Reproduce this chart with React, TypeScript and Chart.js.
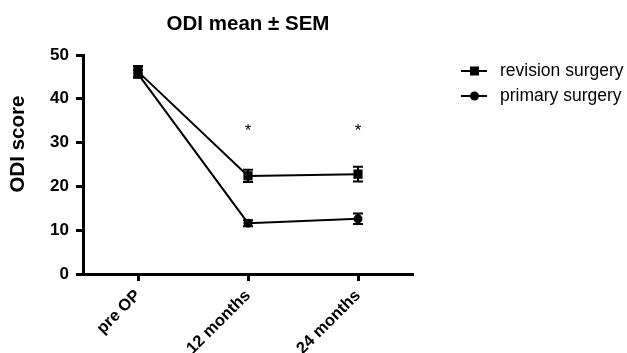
import React, { useEffect, useRef } from "react";
import { Chart, registerables } from "chart.js";

Chart.register(...registerables);

const categories = ["pre OP", "12 months", "24 months"];
const revisionMean = [46.2, 22.4, 22.8];
const revisionSem = [1.3, 1.4, 1.7];
const primaryMean = [45.7, 11.6, 12.6];
const primarySem = [0.9, 0.7, 1.2];
const significance = ["", "*", "*"];
const significanceLevel = 32.5;
const seriesNames = ["revision surgery", "primary surgery"];
const chartTitle = "ODI mean ± SEM";
const yAxisTitle = "ODI score";
const yTicksMin = 0;
const yTicksMax = 50;
const yTicksStep = 10;

const FONT = "'Liberation Sans', Arial, Helvetica, sans-serif";

export default function App() {
  const ref = useRef<HTMLCanvasElement | null>(null);

  useEffect(() => {
    const canvas = ref.current;
    if (!canvas) return;

    const semArrays = [revisionSem, primarySem];

    const errorBars = {
      id: "errorBars",
      beforeDatasetsDraw(chart: any) {
        const ctx = chart.ctx;
        const y = chart.scales.y;
        ctx.save();
        ctx.strokeStyle = "#000";
        ctx.lineWidth = 2;
        chart.data.datasets.forEach((ds: any, di: number) => {
          const meta = chart.getDatasetMeta(di);
          meta.data.forEach((pt: any, i: number) => {
            const v = ds.data[i];
            const e = semArrays[di][i];
            const top = y.getPixelForValue(v + e);
            const bot = y.getPixelForValue(v - e);
            const x = pt.x;
            ctx.beginPath();
            ctx.moveTo(x, top);
            ctx.lineTo(x, bot);
            ctx.moveTo(x - 5, top);
            ctx.lineTo(x + 5, top);
            ctx.moveTo(x - 5, bot);
            ctx.lineTo(x + 5, bot);
            ctx.stroke();
          });
        });
        ctx.restore();
      },
    };

    const annotations = {
      id: "annotations",
      afterDraw(chart: any) {
        const ctx = chart.ctx;
        const xs = chart.scales.x;
        const ys = chart.scales.y;
        const area = chart.chartArea;
        ctx.save();
        ctx.fillStyle = "#000";

        // title
        ctx.font = `bold 20.5px ${FONT}`;
        ctx.textAlign = "center";
        ctx.textBaseline = "middle";
        ctx.fillText(chartTitle, (area.left + area.right) / 2, 24);

        // y axis title
        ctx.save();
        ctx.translate(18, 144);
        ctx.rotate(-Math.PI / 2);
        ctx.font = `bold 20.5px ${FONT}`;
        ctx.fillText(yAxisTitle, 0, 0);
        ctx.restore();

        // significance markers
        ctx.font = `17px ${FONT}`;
        ctx.textAlign = "center";
        ctx.textBaseline = "middle";
        significance.forEach((s, i) => {
          if (!s) return;
          ctx.fillText(s, xs.getPixelForValue(i), ys.getPixelForValue(significanceLevel));
        });

        // legend
        const rows = [71, 96];
        const styles = ["rect", "circle"];
        ctx.textAlign = "left";
        ctx.font = `17.5px ${FONT}`;
        seriesNames.forEach((name, i) => {
          const ry = rows[i];
          ctx.strokeStyle = "#000";
          ctx.lineWidth = 2;
          ctx.beginPath();
          ctx.moveTo(461, ry);
          ctx.lineTo(487, ry);
          ctx.stroke();
          if (styles[i] === "rect") {
            ctx.fillRect(470, ry - 4.5, 9, 9);
          } else {
            ctx.beginPath();
            ctx.arc(474.5, ry, 4.5, 0, Math.PI * 2);
            ctx.fill();
          }
          ctx.fillText(name, 500, ry);
        });
        ctx.restore();
      },
    };

    const chart = new Chart(canvas, {
      type: "line",
      data: {
        labels: categories,
        datasets: [
          {
            label: seriesNames[0],
            data: revisionMean,
            borderColor: "#000",
            backgroundColor: "#000",
            borderWidth: 2,
            pointStyle: "rect",
            pointRadius: 6.5,
            pointBorderWidth: 0,
            tension: 0,
          },
          {
            label: seriesNames[1],
            data: primaryMean,
            borderColor: "#000",
            backgroundColor: "#000",
            borderWidth: 2,
            pointStyle: "circle",
            pointRadius: 4.5,
            pointBorderWidth: 0,
            tension: 0,
          },
        ],
      },
      options: {
        responsive: false,
        animation: false,
        layout: { padding: { left: 0, right: 214, top: 55, bottom: 0 } },
        plugins: {
          legend: { display: false },
          tooltip: { enabled: false },
          title: { display: false },
        },
        scales: {
          x: {
            type: "category",
            offset: true,
            grid: {
              display: true,
              drawOnChartArea: false,
              drawTicks: true,
              tickLength: 7,
              tickWidth: 3,
              tickColor: "#000",
              offset: false,
            },
            border: { display: true, color: "#000", width: 3 },
            ticks: {
              color: "#000",
              font: { family: FONT, size: 16.5, weight: "bold" },
              minRotation: 45,
              maxRotation: 45,
              padding: 5,
            },
            afterFit: (s: any) => {
              s.height = 79;
            },
          },
          y: {
            min: yTicksMin,
            max: yTicksMax,
            ticks: {
              stepSize: yTicksStep,
              color: "#000",
              font: { family: FONT, size: 17, weight: "bold" },
              padding: 7,
            },
            grid: {
              display: true,
              drawOnChartArea: false,
              drawTicks: true,
              tickLength: 7,
              tickWidth: 3,
              tickColor: "#000",
            },
            border: { display: true, color: "#000", width: 3 },
            afterFit: (s: any) => {
              s.width = 83;
            },
          },
        },
      },
      plugins: [errorBars, annotations],
    });

    return () => chart.destroy();
  }, []);

  return (
    <div style={{ position: "absolute", left: 0, top: 0, width: 627, height: 353, background: "#fff" }}>
      <canvas ref={ref} width={627} height={353} />
    </div>
  );
}
